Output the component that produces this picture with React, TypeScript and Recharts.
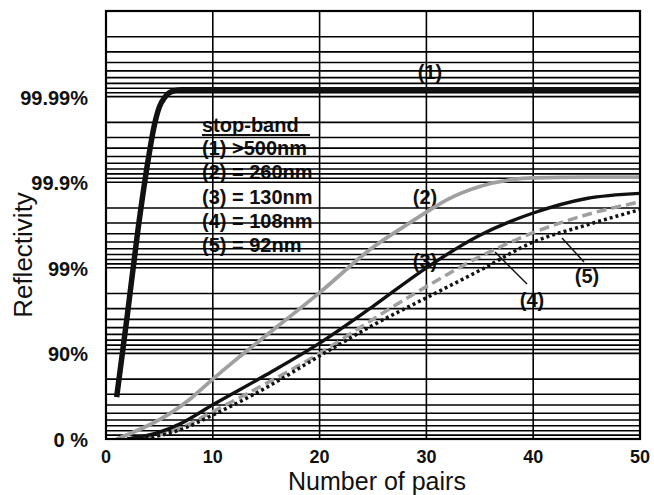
import React from 'react';
import { LineChart, Line, XAxis, YAxis, ReferenceLine } from 'recharts';

// Reflectivity is plotted as "number of nines": -log10(1 - R)
const pairs1 = [1, 2, 3, 4, 4.5, 5, 5.5, 6, 7, 10, 20, 30, 40, 50];
const nines1 = [0.49, 1.45, 2.45, 3.3, 3.65, 3.88, 3.99, 4.05, 4.08, 4.08, 4.08, 4.08, 4.08, 4.08];

const pairs2 = [1, 2, 4, 6, 8, 10, 12, 15, 20, 25, 28, 30, 32, 35, 38, 40, 45, 50];
const nines2 = [0, 0.05, 0.16, 0.3, 0.48, 0.7, 0.91, 1.21, 1.71, 2.24, 2.49, 2.65, 2.8, 2.95, 3.03, 3.05, 3.06, 3.06];

const pairs3 = [2, 5, 7, 10, 15, 20, 25, 30, 35, 40, 45, 50];
const nines3 = [0, 0.08, 0.18, 0.4, 0.75, 1.12, 1.55, 2.0, 2.38, 2.64, 2.81, 2.87];

const pairs4 = [2, 5, 7, 10, 15, 20, 25, 30, 35, 40, 45, 50];
const nines4 = [0, 0.05, 0.13, 0.32, 0.65, 1.0, 1.4, 1.78, 2.13, 2.41, 2.62, 2.77];

const pairs5 = [2, 5, 7, 10, 15, 20, 25, 30, 35, 40, 45, 50];
const nines5 = [0, 0.04, 0.11, 0.28, 0.6, 0.97, 1.33, 1.65, 1.97, 2.3, 2.5, 2.68];

const yTickValues = [0, 1, 2, 3, 4];
const yTickLabels = ['0 %', '90%', '99%', '99.9%', '99.99%'];
const xTickValues = [0, 10, 20, 30, 40, 50];
const decades = [0, 1, 2, 3, 4];
const minorMantissas = [9, 8, 7, 6, 5, 4, 3, 2];

const legendTitle = 'stop-band';
const legendLines = ['(1) >500nm', '(2) = 260nm', '(3) = 130nm', '(4) = 108nm', '(5) = 92nm'];

const gridY = decades.flatMap((d) => [d, ...minorMantissas.map((m) => d - Math.log10(m / 10))]).filter((v) => v > 0);
const gridX = [10, 20, 30, 40];

const toPoints = (xs: number[], ys: number[]) => xs.map((x, i) => ({ x, y: ys[i] }));

const FONT = '"Liberation Sans", Arial, Helvetica, sans-serif';

const YTick = (props: any) => {
  const { x, y, payload } = props;
  const idx = yTickValues.indexOf(payload.value);
  return (
    <text x={x} y={y} dy={8} textAnchor="end" fontFamily={FONT} fontWeight="bold" fontSize={20} fill="#111">
      {idx >= 0 ? yTickLabels[idx] : ''}
    </text>
  );
};

const XTick = (props: any) => {
  const { x, y, payload } = props;
  return (
    <text x={x} y={y} dy={13} textAnchor="middle" fontFamily={FONT} fontWeight="bold" fontSize={18} fill="#111">
      {payload.value}
    </text>
  );
};

export default function App() {
  return (
    <div style={{ position: 'absolute', left: 0, top: 0, width: 654, height: 495, background: '#fff' }}>
      <svg width={654} height={495} style={{ position: 'absolute', left: 0, top: 0 }}>
        <g fontFamily={FONT} fontWeight="bold" fontSize={20} fill="#111">
          <text x={202} y={132}>{legendTitle}</text>
          <line x1={202} y1={135} x2={310} y2={135} stroke="#111" strokeWidth={2} />
          {legendLines.map((t, i) => (
            <text key={t} x={202} y={155 + i * 24.3}>{t}</text>
          ))}
          <text x={430} y={79} textAnchor="middle">(1)</text>
          <text x={425} y={204} textAnchor="middle">(2)</text>
          <text x={425} y={268} textAnchor="middle">(3)</text>
          <text x={532} y={307} textAnchor="middle">(4)</text>
          <text x={587} y={283} textAnchor="middle">(5)</text>
        </g>
        <text x={377} y={490} textAnchor="middle" fontFamily={FONT} fontSize={25} fill="#111">Number of pairs</text>
        <text x={0} y={0} transform="translate(32,255) rotate(-90)" textAnchor="middle" fontFamily={FONT} fontSize={26} fill="#111">Reflectivity</text>
      </svg>
      <div style={{ position: 'absolute', left: 0, top: 0 }}>
        <LineChart width={654} height={495} margin={{ top: 11, right: 14, bottom: 6, left: 6 }}>
          <XAxis
            type="number"
            dataKey="x"
            domain={[0, 50]}
            ticks={xTickValues}
            axisLine={false}
            tickLine={false}
            tickSize={0}
            tickMargin={11}
            height={50}
            tick={<XTick />}
            allowDataOverflow
          />
          <YAxis
            type="number"
            dataKey="y"
            domain={[0, 5]}
            ticks={yTickValues}
            axisLine={false}
            tickLine={false}
            tickSize={0}
            tickMargin={18}
            width={100}
            tick={<YTick />}
            allowDataOverflow
          />
          {gridY.map((v) => (
            <ReferenceLine key={'gy' + v} y={v} stroke="#000" strokeWidth={1.6} />
          ))}
          {gridX.map((v) => (
            <ReferenceLine key={'gx' + v} x={v} stroke="#000" strokeWidth={1.6} />
          ))}
          <Line data={toPoints(pairs2, nines2)} dataKey="y" type="monotone" stroke="#a0a0a0" strokeWidth={3.8} dot={false} isAnimationActive={false} />
          <Line data={toPoints(pairs4, nines4)} dataKey="y" type="monotone" stroke="#a0a0a0" strokeWidth={3.5} strokeDasharray="10 5" dot={false} isAnimationActive={false} />
          <Line data={toPoints(pairs5, nines5)} dataKey="y" type="monotone" stroke="#111" strokeWidth={3.5} strokeDasharray="3 3" dot={false} isAnimationActive={false} />
          <Line data={toPoints(pairs3, nines3)} dataKey="y" type="monotone" stroke="#111" strokeWidth={3.4} dot={false} isAnimationActive={false} />
          <Line data={toPoints(pairs1, nines1)} dataKey="y" type="monotone" stroke="#111" strokeWidth={5.5} dot={false} isAnimationActive={false} />
        </LineChart>
      </div>
      <svg width={654} height={495} style={{ position: 'absolute', left: 0, top: 0, pointerEvents: 'none' }}>
        <rect x={106} y={11} width={534} height={428} fill="none" stroke="#000" strokeWidth={2.2} />
        <line x1={495} y1={252} x2={527} y2={284} stroke="#111" strokeWidth={1.5} />
        <line x1={562} y1={238} x2={584} y2={262} stroke="#111" strokeWidth={1.5} />
      </svg>
    </div>
  );
}
